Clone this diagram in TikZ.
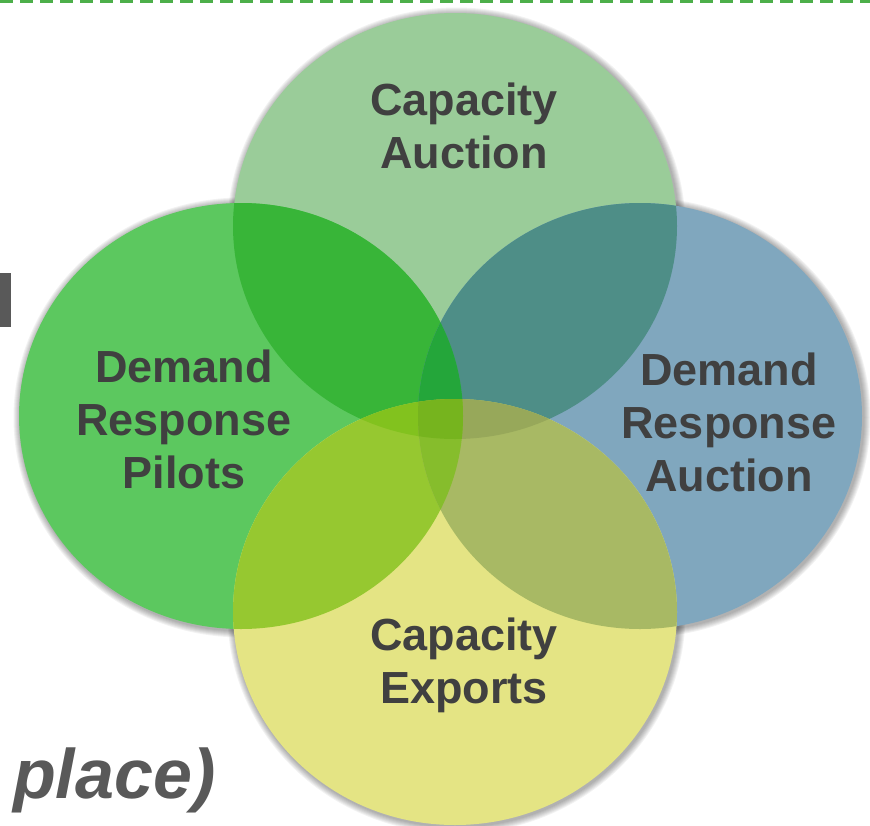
\documentclass[tikz,border=0pt]{standalone}
\usepackage{fontspec}
\setmainfont{Liberation Sans}
\definecolor{cT}{HTML}{9ACC99}
\definecolor{cL}{HTML}{5CC85F}
\definecolor{cR}{HTML}{80A7BE}
\definecolor{cB}{HTML}{E4E484}
\definecolor{cTL}{HTML}{38B538}
\definecolor{cTR}{HTML}{4E8E87}
\definecolor{cTB}{HTML}{B4CF6E}
\definecolor{cLR}{HTML}{4F9F7F}
\definecolor{cLB}{HTML}{96C830}
\definecolor{cRB}{HTML}{A8B964}
\definecolor{cTLR}{HTML}{24A63A}
\definecolor{cTLB}{HTML}{82C21E}
\definecolor{cTRB}{HTML}{97A85A}
\definecolor{cLRB}{HTML}{86BD2C}
\definecolor{cAll}{HTML}{76B41E}
\definecolor{txt}{HTML}{404040}
\definecolor{darkgray}{HTML}{595959}
\definecolor{dashgreen}{HTML}{4DAF4A}
\tikzset{
  circ/.style={x radius=222pt, y radius=213pt},
  lbl/.style={font=\bfseries\fontsize{45}{53}\selectfont, text=txt, align=center, inner sep=0pt},
}
\begin{document}
\begin{tikzpicture}[x=1pt,y=-1pt]
\useasboundingbox (0,0) rectangle (870,825);
\coordinate (pT) at (455,226);
\coordinate (pL) at (241,416);
\coordinate (pR) at (640,416);
\coordinate (pB) at (455,612);
% soft shadows
\foreach \k in {1,...,7}{
  \foreach \c in {pT,pL,pR,pB}{
    \fill[black, opacity=0.05] ([shift={(1.5,1.5)}]\c) ellipse [x radius=222pt+\k pt, y radius=213pt+\k pt];
  }
}
% base circles
\fill[cT] (pT) ellipse [circ];
\fill[cL] (pL) ellipse [circ];
\fill[cR] (pR) ellipse [circ];
\fill[cB] (pB) ellipse [circ];
% pairs
\begin{scope}\clip (pT) ellipse [circ]; \fill[cTL] (pL) ellipse [circ];\end{scope}
\begin{scope}\clip (pT) ellipse [circ]; \fill[cTR] (pR) ellipse [circ];\end{scope}
\begin{scope}\clip (pT) ellipse [circ]; \fill[cTB] (pB) ellipse [circ];\end{scope}
\begin{scope}\clip (pL) ellipse [circ]; \fill[cLR] (pR) ellipse [circ];\end{scope}
\begin{scope}\clip (pL) ellipse [circ]; \fill[cLB] (pB) ellipse [circ];\end{scope}
\begin{scope}\clip (pR) ellipse [circ]; \fill[cRB] (pB) ellipse [circ];\end{scope}
% triples
\begin{scope}\clip (pT) ellipse [circ]; \clip (pL) ellipse [circ]; \fill[cTLR] (pR) ellipse [circ];\end{scope}
\begin{scope}\clip (pT) ellipse [circ]; \clip (pL) ellipse [circ]; \fill[cTLB] (pB) ellipse [circ];\end{scope}
\begin{scope}\clip (pT) ellipse [circ]; \clip (pR) ellipse [circ]; \fill[cTRB] (pB) ellipse [circ];\end{scope}
\begin{scope}\clip (pL) ellipse [circ]; \clip (pR) ellipse [circ]; \fill[cLRB] (pB) ellipse [circ];\end{scope}
% all four
\begin{scope}\clip (pT) ellipse [circ]; \clip (pL) ellipse [circ]; \clip (pR) ellipse [circ]; \fill[cAll] (pB) ellipse [circ];\end{scope}
% labels
\node[lbl] (tT) at (464,125.5) {Capacity\\Auction};
\node[lbl] (tL) at (184,419) {Demand\\Response\\Pilots};
\node[lbl] (tR) at (729,422) {Demand\\Response\\Auction};
\node[lbl] (tB) at (464,665.5) {Capacity\\Exports};
% decorations from the slide
\draw[dashgreen, line width=3.2pt, dash pattern=on 13pt off 7pt] (0,1.6) -- (870,1.6);
\fill[darkgray] (0,273) rectangle (11,327);
\node[anchor=base west, inner sep=0pt, font=\bfseries\itshape\fontsize{70}{80}\selectfont, text=darkgray] (place) at (13,798) {place)};
\end{tikzpicture}
\end{document}
